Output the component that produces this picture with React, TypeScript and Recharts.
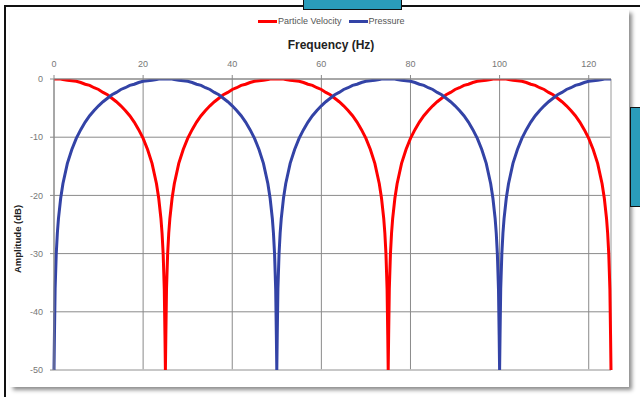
import { LineChart, Line, XAxis, YAxis, CartesianGrid, ReferenceLine } from "recharts";

// frequency (Hz) samples, denser next to the nulls
const frequency = [
  0, 0.1, 0.25, 0.5, 0.75, 1, 1.5, 2, 3, 4, 5, 6, 7, 8, 9, 10, 11, 12, 13, 14, 15, 16, 17, 18, 19, 20, 21, 22, 23, 23.5, 24, 24.25, 24.5, 24.75, 24.9,
  25, 25.1, 25.25, 25.5, 25.75, 26, 26.5, 27, 28, 29, 30, 31, 32, 33, 34, 35, 36, 37, 38, 39, 40, 41, 42, 43, 44, 45, 46, 47, 48, 48.5, 49, 49.25, 49.5, 49.75, 49.9,
  50, 50.1, 50.25, 50.5, 50.75, 51, 51.5, 52, 53, 54, 55, 56, 57, 58, 59, 60, 61, 62, 63, 64, 65, 66, 67, 68, 69, 70, 71, 72, 73, 73.5, 74, 74.25, 74.5, 74.75, 74.9,
  75, 75.1, 75.25, 75.5, 75.75, 76, 76.5, 77, 78, 79, 80, 81, 82, 83, 84, 85, 86, 87, 88, 89, 90, 91, 92, 93, 94, 95, 96, 97, 98, 98.5, 99, 99.25, 99.5, 99.75, 99.9,
  100, 100.1, 100.25, 100.5, 100.75, 101, 101.5, 102, 103, 104, 105, 106, 107, 108, 109, 110, 111, 112, 113, 114, 115, 116, 117, 118, 119, 120, 121, 122, 123, 123.5, 124, 124.25, 124.5, 124.75, 124.9,
  125,
];

// amplitude (dB), clipped at -50
const particleVelocity = [
  0, 0, 0, 0, 0, 0, 0, -0.1, -0.2, -0.3, -0.4, -0.6, -0.9, -1.1, -1.5, -1.8, -2.3, -2.7, -3.3, -3.9, -4.6, -5.4, -6.3, -7.4, -8.7, -10.2, -12.1, -14.5, -18, -20.5, -24, -26.5, -30.1, -36.1, -44,
  -50, -44, -36.1, -30.1, -26.5, -24, -20.5, -18, -14.5, -12.1, -10.2, -8.7, -7.4, -6.3, -5.4, -4.6, -3.9, -3.3, -2.7, -2.3, -1.8, -1.5, -1.1, -0.9, -0.6, -0.4, -0.3, -0.2, -0.1, 0, 0, 0, 0, 0, 0,
  0, 0, 0, 0, 0, 0, 0, -0.1, -0.2, -0.3, -0.4, -0.6, -0.9, -1.1, -1.5, -1.8, -2.3, -2.7, -3.3, -3.9, -4.6, -5.4, -6.3, -7.4, -8.7, -10.2, -12.1, -14.5, -18, -20.5, -24, -26.5, -30.1, -36.1, -44,
  -50, -44, -36.1, -30.1, -26.5, -24, -20.5, -18, -14.5, -12.1, -10.2, -8.7, -7.4, -6.3, -5.4, -4.6, -3.9, -3.3, -2.7, -2.3, -1.8, -1.5, -1.1, -0.9, -0.6, -0.4, -0.3, -0.2, -0.1, 0, 0, 0, 0, 0, 0,
  0, 0, 0, 0, 0, 0, 0, -0.1, -0.2, -0.3, -0.4, -0.6, -0.9, -1.1, -1.5, -1.8, -2.3, -2.7, -3.3, -3.9, -4.6, -5.4, -6.3, -7.4, -8.7, -10.2, -12.1, -14.5, -18, -20.5, -24, -26.5, -30.1, -36.1, -44,
  -50,
];

const pressure = [
  -50, -44, -36.1, -30.1, -26.5, -24, -20.5, -18, -14.5, -12.1, -10.2, -8.7, -7.4, -6.3, -5.4, -4.6, -3.9, -3.3, -2.7, -2.3, -1.8, -1.5, -1.1, -0.9, -0.6, -0.4, -0.3, -0.2, -0.1, 0, 0, 0, 0, 0, 0,
  0, 0, 0, 0, 0, 0, 0, -0.1, -0.2, -0.3, -0.4, -0.6, -0.9, -1.1, -1.5, -1.8, -2.3, -2.7, -3.3, -3.9, -4.6, -5.4, -6.3, -7.4, -8.7, -10.2, -12.1, -14.5, -18, -20.5, -24, -26.5, -30.1, -36.1, -44,
  -50, -44, -36.1, -30.1, -26.5, -24, -20.5, -18, -14.5, -12.1, -10.2, -8.7, -7.4, -6.3, -5.4, -4.6, -3.9, -3.3, -2.7, -2.3, -1.8, -1.5, -1.1, -0.9, -0.6, -0.4, -0.3, -0.2, -0.1, 0, 0, 0, 0, 0, 0,
  0, 0, 0, 0, 0, 0, 0, -0.1, -0.2, -0.3, -0.4, -0.6, -0.9, -1.1, -1.5, -1.8, -2.3, -2.7, -3.3, -3.9, -4.6, -5.4, -6.3, -7.4, -8.7, -10.2, -12.1, -14.5, -18, -20.5, -24, -26.5, -30.1, -36.1, -44,
  -50, -44, -36.1, -30.1, -26.5, -24, -20.5, -18, -14.5, -12.1, -10.2, -8.7, -7.4, -6.3, -5.4, -4.6, -3.9, -3.3, -2.7, -2.3, -1.8, -1.5, -1.1, -0.9, -0.6, -0.4, -0.3, -0.2, -0.1, 0, 0, 0, 0, 0, 0,
  0,
];

const xTicks = [0, 20, 40, 60, 80, 100, 120];
const yTicks = [0, -10, -20, -30, -40, -50];

const RED = "#ff0000";
const BLUE = "#3343a6";
const GRID = "#8a8a8a";
const FONT = "'Liberation Sans', Arial, sans-serif";

const data = frequency.map((f, i) => ({
  f,
  velocity: particleVelocity[i],
  pressure: pressure[i],
}));

const Legend = () => (
  <div
    style={{
      position: "absolute",
      left: 258,
      top: 16,
      display: "flex",
      alignItems: "center",
      fontFamily: FONT,
      fontSize: 9,
      color: "#555",
      whiteSpace: "nowrap",
    }}
  >
    <span style={{ width: 19, height: 3, background: RED, marginRight: 1 }} />
    <span style={{ marginRight: 7 }}>Particle Velocity</span>
    <span style={{ width: 19, height: 3, background: BLUE, marginRight: 1 }} />
    <span>Pressure</span>
  </div>
);

export default function App() {
  return (
    <div style={{ position: "absolute", left: 0, top: 0, width: 640, height: 397, background: "#fff", overflow: "hidden" }}>
      {/* frame lines and the clipped boxes around the figure */}
      <div style={{ position: "absolute", left: 4, top: 5, width: 636, height: 2, background: "#111" }} />
      <div style={{ position: "absolute", left: 4, top: 5, width: 2, height: 392, background: "#111" }} />
      <div
        style={{
          position: "absolute",
          left: 10,
          top: 10,
          width: 619,
          height: 377,
          background: "#fff",
          boxShadow: "3px 3px 4px rgba(0,0,0,0.45)",
        }}
      />
      <div
        style={{
          position: "absolute",
          left: 303,
          top: -1,
          width: 97,
          height: 9,
          background: "#2a9cba",
          border: "1px solid #111",
        }}
      />
      <div
        style={{
          position: "absolute",
          left: 630,
          top: 107,
          width: 12,
          height: 98,
          background: "#2a9cba",
          border: "1px solid #111",
        }}
      />

      <Legend />

      <div style={{ position: "absolute", left: 0, top: 0 }}>
        <LineChart width={640} height={397} data={data} margin={{ top: 59, right: 29, bottom: 27, left: 14 }}>
          <CartesianGrid stroke={GRID} strokeWidth={1} vertical horizontal />
          <ReferenceLine y={-50} stroke="#c8c8c8" strokeWidth={1.5} />
          <ReferenceLine x={125} stroke="#cfcfcf" strokeWidth={1.5} />
          <XAxis
            dataKey="f"
            type="number"
            orientation="top"
            domain={[0, 125]}
            ticks={xTicks}
            height={20}
            axisLine={{ stroke: GRID }}
            tickLine={{ stroke: GRID }}
            tickSize={4}
            tickMargin={8}
            tick={{ fill: "#777", fontSize: 9, fontFamily: FONT }}
            label={{
              content: () => (
                <text x={331} y={49} textAnchor="middle" fontFamily={FONT} fontSize={12} fontWeight="bold" fill="#222">
                  Frequency (Hz)
                </text>
              ),
            }}
          />
          <YAxis
            type="number"
            domain={[-50, 0]}
            ticks={yTicks}
            allowDataOverflow
            width={40}
            axisLine={{ stroke: GRID }}
            tickLine={{ stroke: GRID }}
            tickSize={4}
            tickMargin={7}
            tick={{ fill: "#777", fontSize: 9, fontFamily: FONT }}
            label={{
              content: () => (
                <text
                  x={21}
                  y={239}
                  transform="rotate(-90 21 239)"
                  textAnchor="middle"
                  fontFamily={FONT}
                  fontSize={9.5}
                  fontWeight="bold"
                  fill="#222"
                >
                  Amplitude (dB)
                </text>
              ),
            }}
          />
          <Line
            dataKey="velocity"
            name="Particle Velocity"
            type="linear"
            stroke={RED}
            strokeWidth={3}
            dot={false}
            isAnimationActive={false}
          />
          <Line
            dataKey="pressure"
            name="Pressure"
            type="linear"
            stroke={BLUE}
            strokeWidth={3}
            dot={false}
            isAnimationActive={false}
          />
        </LineChart>
      </div>
    </div>
  );
}
